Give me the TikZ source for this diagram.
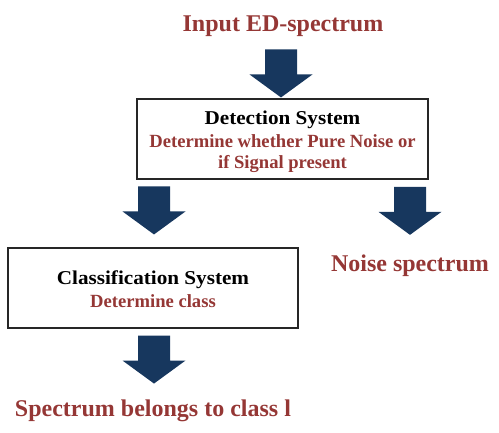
\documentclass[tikz,border=0pt]{standalone}
\usepackage{fontspec}
\setmainfont{Liberation Serif}
\newfontfamily\headfont{Liberation Serif}[FakeStretch=1.08]
\usetikzlibrary{calc}
\definecolor{flowred}{RGB}{149,55,53}
\definecolor{flownavy}{RGB}{23,55,94}
\tikzset{
  bigtext/.style={text=flowred,font=\fontsize{24}{28}\selectfont\bfseries,inner sep=0pt,anchor=base},
  headtext/.style={text=black,font=\headfont\fontsize{19.6}{23}\selectfont\bfseries,inner sep=0pt,anchor=base},
  subtext/.style={text=flowred,font=\fontsize{18.6}{22}\selectfont\bfseries,inner sep=0pt,anchor=base},
  stagebox/.style={draw=black!85,line width=1.1pt,fill=white,inner sep=0pt},
  pics/blockarrow/.style={code={
    \fill[flownavy] (-16,0) -- (16,0) -- (16,25) -- (31.5,25) -- (0,48)
      -- (-31.5,25) -- (-16,25) -- cycle;
  }}
}
\begin{document}
\begin{tikzpicture}[x=1pt,y=-1pt]
\useasboundingbox (0,0) rectangle (499,433);

% input label and first stage
\node[bigtext] (input) at (283,32) {Input ED-spectrum};
\node[stagebox,minimum width=291pt,minimum height=80pt] (det) at (282.5,139) {};
\node[headtext] (dettitle) at (282.5,124.5) {Detection System};
\node[subtext] (detline1) at (282.5,147.7) {Determine whether Pure Noise or};
\node[subtext] (detline2) at (282.5,168.5) {if Signal present};

% second stage and noise output
\node[stagebox,minimum width=290pt,minimum height=80pt] (cls) at (153,288) {};
\node[headtext] (clstitle) at (153,284.3) {Classification System};
\node[subtext] (clsline) at (153,307.7) {Determine class};
\node[bigtext] (noise) at (410,271.7) {Noise spectrum};

% final output
\node[bigtext] (result) at (153,416.7) {Spectrum belongs to class l};

% block arrows between the stages
\path (det.north) ++(-1.5,-49) coordinate (arrowA);
\path (cls.north) ++(1,-61) coordinate (arrowB);
\path (noise.north) ++(0,-68) coordinate (arrowC);
\path (cls.south) ++(1,7) coordinate (arrowD);
\pic at (arrowA) {blockarrow};
\pic at (arrowB) {blockarrow};
\pic at (arrowC) {blockarrow};
\pic at (arrowD) {blockarrow};
\end{tikzpicture}
\end{document}
